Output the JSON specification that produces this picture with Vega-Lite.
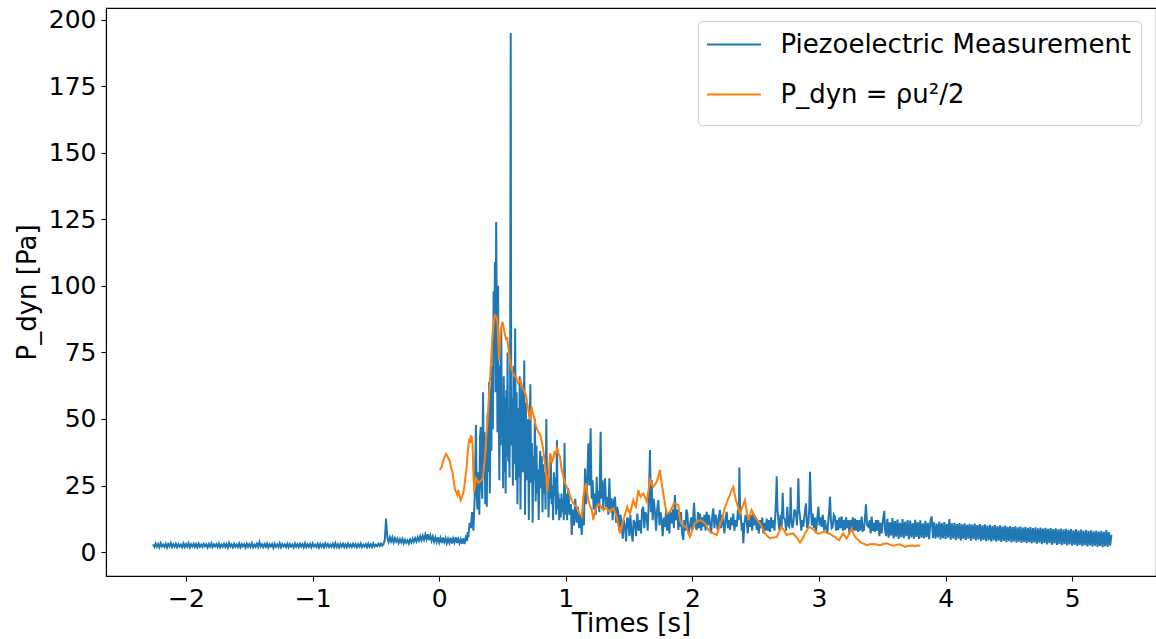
{
"$schema": "https://vega.github.io/schema/vega-lite/v6.json",
"width": 1050, "height": 568,
"autosize": {"type": "none"},
"padding": {"left": 106, "top": 8, "right": 0, "bottom": 63},
"background": "white",
"config": {
  "view": {"stroke": "black", "strokeWidth": 1.1},
  "font": "DejaVu Sans",
  "axis": {"domainColor": "black", "domainWidth": 1.1, "tickColor": "black", "tickWidth": 1.1, "tickSize": 5, "labelColor": "black", "titleColor": "black", "labelFont": "DejaVu Sans", "titleFont": "DejaVu Sans", "labelFontSize": 25, "titleFontSize": 26, "titleFontWeight": "normal", "grid": false, "labelPadding": 5}
},
"datasets": {
"blue": [
{"t":-2.26,"v":2.9},{"t":-2.25,"v":1.9},{"t":-2.24,"v":3.2},{"t":-2.23,"v":2.0},{"t":-2.22,"v":3.0},{"t":-2.21,"v":1.8},{"t":-2.2,"v":3.3},{"t":-2.19,"v":2.1},{"t":-2.18,"v":2.8},{"t":-2.17,"v":1.9},
{"t":-2.16,"v":3.1},{"t":-2.15,"v":1.7},{"t":-2.14,"v":3.0},{"t":-2.13,"v":2.2},{"t":-2.12,"v":3.4},{"t":-2.11,"v":1.9},{"t":-2.1,"v":2.9},{"t":-2.09,"v":2.0},{"t":-2.08,"v":3.1},{"t":-2.07,"v":1.8},
{"t":-2.06,"v":3.0},{"t":-2.05,"v":2.1},{"t":-2.04,"v":2.8},{"t":-2.03,"v":1.8},{"t":-2.02,"v":3.2},{"t":-2.01,"v":1.9},{"t":-2.0,"v":3.0},{"t":-1.99,"v":2.0},{"t":-1.98,"v":3.3},{"t":-1.97,"v":1.7},
{"t":-1.96,"v":2.9},{"t":-1.95,"v":2.1},{"t":-1.94,"v":3.1},{"t":-1.93,"v":1.9},{"t":-1.92,"v":3.0},{"t":-1.91,"v":1.8},{"t":-1.9,"v":3.2},{"t":-1.89,"v":2.0},{"t":-1.88,"v":2.8},{"t":-1.87,"v":1.9},
{"t":-1.86,"v":3.1},{"t":-1.85,"v":2.2},{"t":-1.84,"v":2.9},{"t":-1.83,"v":1.7},{"t":-1.82,"v":3.0},{"t":-1.81,"v":2.0},{"t":-1.8,"v":3.3},{"t":-1.79,"v":1.8},{"t":-1.78,"v":2.9},{"t":-1.77,"v":2.1},
{"t":-1.76,"v":3.0},{"t":-1.75,"v":1.9},{"t":-1.74,"v":3.2},{"t":-1.73,"v":1.8},{"t":-1.72,"v":2.8},{"t":-1.71,"v":2.0},{"t":-1.7,"v":3.1},{"t":-1.69,"v":1.9},{"t":-1.68,"v":3.0},{"t":-1.67,"v":1.7},
{"t":-1.66,"v":3.4},{"t":-1.65,"v":2.1},{"t":-1.64,"v":2.9},{"t":-1.63,"v":1.8},{"t":-1.62,"v":3.1},{"t":-1.61,"v":2.0},{"t":-1.6,"v":2.8},{"t":-1.59,"v":1.9},{"t":-1.58,"v":3.2},{"t":-1.57,"v":1.8},
{"t":-1.56,"v":3.0},{"t":-1.55,"v":2.1},{"t":-1.54,"v":2.9},{"t":-1.53,"v":1.7},{"t":-1.52,"v":3.1},{"t":-1.51,"v":2.0},{"t":-1.5,"v":3.0},{"t":-1.49,"v":1.9},{"t":-1.48,"v":3.3},{"t":-1.47,"v":1.8},
{"t":-1.46,"v":2.8},{"t":-1.45,"v":2.0},{"t":-1.44,"v":3.1},{"t":-1.43,"v":1.9},{"t":-1.42,"v":3.7},{"t":-1.41,"v":2.1},{"t":-1.4,"v":2.9},{"t":-1.39,"v":1.8},{"t":-1.38,"v":3.0},{"t":-1.37,"v":2.0},
{"t":-1.36,"v":3.2},{"t":-1.35,"v":1.7},{"t":-1.34,"v":2.9},{"t":-1.33,"v":2.1},{"t":-1.32,"v":3.0},{"t":-1.31,"v":1.6},{"t":-1.3,"v":3.1},{"t":-1.29,"v":2.0},{"t":-1.28,"v":2.8},{"t":-1.27,"v":1.9},
{"t":-1.26,"v":3.3},{"t":-1.25,"v":1.8},{"t":-1.24,"v":3.0},{"t":-1.23,"v":2.1},{"t":-1.22,"v":2.9},{"t":-1.21,"v":1.9},{"t":-1.2,"v":3.1},{"t":-1.19,"v":1.8},{"t":-1.18,"v":3.0},{"t":-1.17,"v":2.0},
{"t":-1.16,"v":2.8},{"t":-1.15,"v":1.7},{"t":-1.14,"v":3.2},{"t":-1.13,"v":2.0},{"t":-1.12,"v":2.9},{"t":-1.11,"v":1.9},{"t":-1.1,"v":3.1},{"t":-1.09,"v":2.1},{"t":-1.08,"v":3.0},{"t":-1.07,"v":1.8},
{"t":-1.06,"v":3.3},{"t":-1.05,"v":1.9},{"t":-1.04,"v":2.9},{"t":-1.03,"v":2.0},{"t":-1.02,"v":3.0},{"t":-1.01,"v":1.8},{"t":-1.0,"v":3.2},{"t":-0.99,"v":2.1},{"t":-0.98,"v":2.8},{"t":-0.97,"v":1.9},
{"t":-0.96,"v":3.1},{"t":-0.95,"v":1.7},{"t":-0.94,"v":3.0},{"t":-0.93,"v":2.0},{"t":-0.92,"v":2.9},{"t":-0.91,"v":1.8},{"t":-0.9,"v":3.2},{"t":-0.89,"v":2.1},{"t":-0.88,"v":3.0},{"t":-0.87,"v":1.9},
{"t":-0.86,"v":2.8},{"t":-0.85,"v":2.0},{"t":-0.84,"v":3.1},{"t":-0.83,"v":1.8},{"t":-0.82,"v":3.3},{"t":-0.81,"v":1.9},{"t":-0.8,"v":2.9},{"t":-0.79,"v":1.7},{"t":-0.78,"v":3.0},{"t":-0.77,"v":2.1},
{"t":-0.76,"v":3.1},{"t":-0.75,"v":1.9},{"t":-0.74,"v":2.9},{"t":-0.73,"v":1.8},{"t":-0.72,"v":3.2},{"t":-0.71,"v":2.0},{"t":-0.7,"v":2.8},{"t":-0.69,"v":1.9},{"t":-0.68,"v":3.1},{"t":-0.67,"v":2.1},
{"t":-0.66,"v":3.0},{"t":-0.65,"v":1.8},{"t":-0.64,"v":2.9},{"t":-0.63,"v":2.0},{"t":-0.62,"v":3.2},{"t":-0.61,"v":1.9},{"t":-0.6,"v":2.8},{"t":-0.59,"v":2.1},{"t":-0.58,"v":3.0},{"t":-0.57,"v":1.8},
{"t":-0.56,"v":3.1},{"t":-0.55,"v":2.0},{"t":-0.54,"v":2.9},{"t":-0.53,"v":1.9},{"t":-0.52,"v":3.2},{"t":-0.51,"v":2.1},{"t":-0.5,"v":2.8},{"t":-0.49,"v":2.2},{"t":-0.48,"v":3.1},{"t":-0.47,"v":2.3},
{"t":-0.46,"v":3.2},{"t":-0.45,"v":2.4},
{"t":-0.44,"v":3.0},{"t":-0.43,"v":4.5},{"t":-0.42,"v":12.6},{"t":-0.415,"v":9},{"t":-0.41,"v":5.5},{"t":-0.4,"v":3.8},{"t":-0.39,"v":5.6},{"t":-0.38,"v":4.0},{"t":-0.37,"v":5.5},{"t":-0.36,"v":3.6},{"t":-0.35,"v":5.2},{"t":-0.34,"v":3.9},{"t":-0.33,"v":5.0},{"t":-0.32,"v":3.4},{"t":-0.31,"v":4.8},{"t":-0.3,"v":3.6},{"t":-0.29,"v":4.9},{"t":-0.28,"v":3.3},{"t":-0.27,"v":4.6},{"t":-0.26,"v":3.5},{"t":-0.25,"v":4.4},{"t":-0.24,"v":3.2},{"t":-0.23,"v":4.7},{"t":-0.22,"v":3.6},{"t":-0.21,"v":5.0},{"t":-0.2,"v":3.8},{"t":-0.19,"v":5.2},{"t":-0.18,"v":4.0},{"t":-0.17,"v":5.5},{"t":-0.16,"v":4.2},{"t":-0.15,"v":5.9},{"t":-0.14,"v":4.4},{"t":-0.13,"v":6.1},{"t":-0.12,"v":4.6},{"t":-0.11,"v":6.5},{"t":-0.1,"v":4.8},{"t":-0.09,"v":6.7},{"t":-0.08,"v":4.5},{"t":-0.07,"v":6.2},{"t":-0.06,"v":4.2},{"t":-0.05,"v":5.8},{"t":-0.04,"v":3.9},{"t":-0.03,"v":5.5},{"t":-0.02,"v":3.8},{"t":-0.01,"v":5.6},{"t":0.0,"v":3.6},{"t":0.01,"v":5.3},{"t":0.02,"v":3.4},{"t":0.03,"v":5.5},{"t":0.04,"v":3.7},{"t":0.05,"v":5.2},{"t":0.06,"v":3.3},{"t":0.07,"v":5.0},{"t":0.08,"v":3.5},{"t":0.09,"v":5.4},{"t":0.1,"v":3.2},{"t":0.11,"v":5.1},{"t":0.12,"v":3.6},{"t":0.13,"v":5.6},{"t":0.14,"v":3.4},{"t":0.15,"v":5.0},{"t":0.16,"v":3.3},{"t":0.17,"v":4.8},{"t":0.18,"v":3.1},{"t":0.19,"v":5.2},{"t":0.2,"v":3.0},{"t":0.21,"v":5.5},{"t":0.22,"v":4.2},{"t":0.225,"v":7.5},{"t":0.23,"v":5.5},
{"t":0.24,"v":11},{"t":0.25,"v":9},{"t":0.26,"v":15},{"t":0.27,"v":8},{"t":0.28,"v":20},{"t":0.29,"v":47.7},{"t":0.296,"v":22},{"t":0.302,"v":16},{"t":0.31,"v":30},{"t":0.317,"v":14},{"t":0.322,"v":43},{"t":0.328,"v":47},{"t":0.334,"v":25},{"t":0.34,"v":20},{"t":0.346,"v":60},{"t":0.352,"v":33},{"t":0.358,"v":45},{"t":0.364,"v":18},{"t":0.37,"v":38},{"t":0.376,"v":17},{"t":0.382,"v":52},{"t":0.388,"v":30},{"t":0.394,"v":64},{"t":0.4,"v":22},{"t":0.406,"v":62},{"t":0.412,"v":38},{"t":0.418,"v":70},{"t":0.424,"v":46},{"t":0.43,"v":98},{"t":0.435,"v":75},{"t":0.44,"v":109},{"t":0.445,"v":60},{"t":0.45,"v":124},{"t":0.455,"v":89},{"t":0.46,"v":45},{"t":0.465,"v":100},{"t":0.47,"v":55},{"t":0.475,"v":27},{"t":0.48,"v":70},{"t":0.485,"v":40},{"t":0.49,"v":84},{"t":0.495,"v":43},{"t":0.5,"v":54},{"t":0.505,"v":24},{"t":0.51,"v":66},{"t":0.515,"v":30},{"t":0.52,"v":58},{"t":0.525,"v":22},{"t":0.53,"v":61},{"t":0.535,"v":36},{"t":0.54,"v":75},{"t":0.545,"v":34},{"t":0.55,"v":50},{"t":0.555,"v":28},{"t":0.56,"v":60},{"t":0.565,"v":195},{"t":0.569,"v":40},{"t":0.576,"v":58},{"t":0.582,"v":25},{"t":0.588,"v":70},{"t":0.594,"v":33},{"t":0.6,"v":84},{"t":0.606,"v":27},{"t":0.612,"v":60},{"t":0.618,"v":18},{"t":0.624,"v":54},{"t":0.63,"v":28},{"t":0.636,"v":66},{"t":0.642,"v":16},{"t":0.648,"v":48},{"t":0.654,"v":62},{"t":0.66,"v":30},{"t":0.666,"v":45},{"t":0.672,"v":72},{"t":0.678,"v":14},{"t":0.684,"v":56},{"t":0.69,"v":34},{"t":0.696,"v":27},{"t":0.702,"v":50},{"t":0.708,"v":12},{"t":0.714,"v":44},{"t":0.72,"v":63},{"t":0.726,"v":26},{"t":0.732,"v":41},{"t":0.738,"v":11},{"t":0.744,"v":36},{"t":0.75,"v":27},{"t":0.756,"v":50},{"t":0.762,"v":19},{"t":0.768,"v":40},{"t":0.774,"v":22},{"t":0.78,"v":31},{"t":0.786,"v":12},{"t":0.792,"v":30},{"t":0.798,"v":38},{"t":0.804,"v":24},{"t":0.81,"v":36},{"t":0.816,"v":15},{"t":0.822,"v":33},{"t":0.828,"v":22},{"t":0.834,"v":30},{"t":0.84,"v":16},{"t":0.846,"v":50},{"t":0.852,"v":24},{"t":0.858,"v":30},{"t":0.864,"v":13},{"t":0.87,"v":28},{"t":0.876,"v":20},{"t":0.882,"v":34},{"t":0.888,"v":18},{"t":0.894,"v":25},{"t":0.9,"v":12},{"t":0.906,"v":30},{"t":0.912,"v":21},{"t":0.918,"v":28},{"t":0.924,"v":14},{"t":0.93,"v":42},{"t":0.936,"v":16},{"t":0.942,"v":22},{"t":0.948,"v":12},{"t":0.954,"v":20},{"t":0.96,"v":13},{"t":0.966,"v":22},{"t":0.972,"v":15},{"t":0.978,"v":20},{"t":0.984,"v":12},{"t":0.99,"v":41},{"t":0.996,"v":14},
{"t":1.003,"v":22},{"t":1.01,"v":12},{"t":1.02,"v":24},{"t":1.03,"v":14},{"t":1.04,"v":18},{"t":1.047,"v":6.4},{"t":1.055,"v":16},{"t":1.065,"v":10},{"t":1.075,"v":20},{"t":1.085,"v":11},{"t":1.095,"v":17},{"t":1.105,"v":9},{"t":1.115,"v":14},{"t":1.126,"v":6.4},{"t":1.135,"v":15},{"t":1.143,"v":10},{"t":1.152,"v":31.4},{"t":1.16,"v":18},{"t":1.17,"v":28},{"t":1.178,"v":40.8},{"t":1.186,"v":25},{"t":1.196,"v":46.5},{"t":1.204,"v":20},{"t":1.212,"v":27},{"t":1.22,"v":16},{"t":1.23,"v":22},{"t":1.237,"v":14},{"t":1.244,"v":28.3},{"t":1.25,"v":18},{"t":1.257,"v":23},{"t":1.265,"v":15},{"t":1.275,"v":45.2},{"t":1.282,"v":20},{"t":1.289,"v":27},{"t":1.296,"v":16},{"t":1.303,"v":24},{"t":1.31,"v":27.7},{"t":1.318,"v":17},{"t":1.328,"v":20.8},{"t":1.336,"v":14},{"t":1.344,"v":27.7},{"t":1.352,"v":16},{"t":1.362,"v":20.2},{"t":1.37,"v":12},{"t":1.378,"v":19},{"t":1.389,"v":20.8},{"t":1.397,"v":11},{"t":1.405,"v":17},{"t":1.415,"v":14.5},{"t":1.423,"v":8},{"t":1.432,"v":14},{"t":1.441,"v":10.8},{"t":1.45,"v":5},{"t":1.458,"v":12},{"t":1.468,"v":9.5},{"t":1.476,"v":4},{"t":1.485,"v":13},{"t":1.494,"v":12},{"t":1.502,"v":6},{"t":1.51,"v":14},{"t":1.518,"v":8},{"t":1.528,"v":3.9},{"t":1.536,"v":12},{"t":1.547,"v":10.8},{"t":1.555,"v":6},{"t":1.565,"v":14.5},{"t":1.575,"v":8},{"t":1.586,"v":12},{"t":1.594,"v":7},{"t":1.603,"v":16},{"t":1.612,"v":17},{"t":1.62,"v":9},{"t":1.63,"v":15},{"t":1.639,"v":13.3},{"t":1.647,"v":8},{"t":1.656,"v":20},{"t":1.665,"v":38.3},{"t":1.672,"v":15},{"t":1.678,"v":27},{"t":1.686,"v":12},{"t":1.695,"v":20},{"t":1.705,"v":14.5},{"t":1.713,"v":8},{"t":1.722,"v":16},{"t":1.731,"v":19.5},{"t":1.74,"v":10},{"t":1.748,"v":15},{"t":1.757,"v":12},{"t":1.765,"v":6},{"t":1.775,"v":13},{"t":1.784,"v":9.5},{"t":1.792,"v":16},{"t":1.8,"v":8},{"t":1.81,"v":14.5},{"t":1.818,"v":7},{"t":1.826,"v":15},{"t":1.836,"v":10.8},{"t":1.846,"v":16},{"t":1.854,"v":9},{"t":1.862,"v":21.4},{"t":1.87,"v":12},{"t":1.879,"v":16},{"t":1.889,"v":8.3},{"t":1.896,"v":14},{"t":1.902,"v":9.5},{"t":1.91,"v":15},{"t":1.918,"v":7},{"t":1.928,"v":4.5},{"t":1.936,"v":12},{"t":1.945,"v":8},{"t":1.952,"v":16},{"t":1.96,"v":14.5},{"t":1.97,"v":7},{"t":1.98,"v":9.5},{"t":1.99,"v":13},{"t":2.0,"v":8},{"t":2.013,"v":18.5},{"t":2.022,"v":10},{"t":2.034,"v":8.3},{"t":2.045,"v":15},{"t":2.052,"v":9},{"t":2.06,"v":14.5},{"t":2.07,"v":8},{"t":2.078,"v":13},{"t":2.086,"v":9.5},{"t":2.095,"v":14},{"t":2.104,"v":8},{"t":2.113,"v":15.1},{"t":2.122,"v":10},{"t":2.13,"v":14},{"t":2.139,"v":10.8},{"t":2.148,"v":7},{"t":2.156,"v":13},{"t":2.165,"v":16.4},{"t":2.174,"v":9},{"t":2.183,"v":14},{"t":2.192,"v":12},{"t":2.2,"v":8},{"t":2.209,"v":13},{"t":2.218,"v":15.8},{"t":2.226,"v":9},{"t":2.235,"v":14},{"t":2.244,"v":10.8},{"t":2.253,"v":7},{"t":2.262,"v":13},{"t":2.271,"v":15.1},{"t":2.28,"v":9},{"t":2.289,"v":12},{"t":2.297,"v":8.3},{"t":2.306,"v":13},{"t":2.315,"v":10},{"t":2.323,"v":14.5},{"t":2.332,"v":8},{"t":2.341,"v":12},{"t":2.35,"v":9.5},{"t":2.36,"v":16},{"t":2.366,"v":12},{"t":2.371,"v":31.8},{"t":2.376,"v":18},{"t":2.381,"v":14.5},{"t":2.39,"v":8},{"t":2.396,"v":11},{"t":2.402,"v":3.3},{"t":2.41,"v":10},{"t":2.42,"v":14},{"t":2.429,"v":12},{"t":2.437,"v":7},{"t":2.446,"v":13},{"t":2.455,"v":9.5},{"t":2.464,"v":14},{"t":2.472,"v":8},{"t":2.481,"v":14.5},{"t":2.49,"v":10},{"t":2.5,"v":13},{"t":2.508,"v":8.3},{"t":2.517,"v":12},{"t":2.525,"v":7},{"t":2.534,"v":12},{"t":2.543,"v":9},{"t":2.552,"v":13},{"t":2.56,"v":7},{"t":2.57,"v":11},{"t":2.578,"v":8},{"t":2.587,"v":12.6},{"t":2.596,"v":8},{"t":2.605,"v":12},{"t":2.613,"v":7.6},{"t":2.622,"v":13},{"t":2.63,"v":9},{"t":2.639,"v":12},{"t":2.648,"v":8},{"t":2.655,"v":14},{"t":2.661,"v":20},{"t":2.666,"v":28.5},{"t":2.672,"v":16},{"t":2.679,"v":12},{"t":2.688,"v":8},{"t":2.696,"v":14},{"t":2.705,"v":9.5},{"t":2.713,"v":22.3},{"t":2.72,"v":13},{"t":2.732,"v":12},{"t":2.74,"v":8},{"t":2.75,"v":17},{"t":2.758,"v":10},{"t":2.765,"v":9.5},{"t":2.772,"v":14},{"t":2.776,"v":24.3},{"t":2.782,"v":12},{"t":2.79,"v":9},{"t":2.797,"v":10.8},{"t":2.806,"v":16},{"t":2.818,"v":14.5},{"t":2.826,"v":10},{"t":2.832,"v":18},{"t":2.837,"v":27.7},{"t":2.843,"v":16},{"t":2.85,"v":13.3},{"t":2.86,"v":8},{"t":2.868,"v":12},{"t":2.876,"v":9.5},{"t":2.886,"v":14},{"t":2.897,"v":18.3},{"t":2.906,"v":9},{"t":2.916,"v":10.8},{"t":2.923,"v":16},{"t":2.929,"v":30.2},{"t":2.936,"v":18},{"t":2.943,"v":10},{"t":2.95,"v":14.5},{"t":2.96,"v":9},{"t":2.968,"v":13},{"t":2.976,"v":7},{"t":2.985,"v":12},{"t":2.995,"v":17},{"t":3.004,"v":10},{"t":3.012,"v":13},{"t":3.021,"v":9.5},{"t":3.03,"v":14},{"t":3.04,"v":8},{"t":3.047,"v":12},{"t":3.056,"v":9},{"t":3.066,"v":7},{"t":3.074,"v":12},{"t":3.081,"v":16},{"t":3.087,"v":20.8},{"t":3.094,"v":12},{"t":3.1,"v":9},{"t":3.108,"v":9.5},{"t":3.117,"v":14},{"t":3.126,"v":13.3},{"t":3.135,"v":8},{"t":3.143,"v":12},{"t":3.152,"v":8.3},{"t":3.161,"v":13},{"t":3.17,"v":9},{"t":3.179,"v":13.3},{"t":3.188,"v":8},{"t":3.196,"v":12},{"t":3.205,"v":8.3},{"t":3.214,"v":13},{"t":3.222,"v":9},{"t":3.231,"v":12},{"t":3.24,"v":7},{"t":3.249,"v":12},{"t":3.258,"v":7.6},{"t":3.267,"v":13},{"t":3.275,"v":8},{"t":3.284,"v":12.6},{"t":3.293,"v":8},{"t":3.302,"v":12},{"t":3.31,"v":7.6},{"t":3.32,"v":12},{"t":3.328,"v":8},{"t":3.337,"v":13.3},{"t":3.346,"v":8},{"t":3.355,"v":8.3},{"t":3.362,"v":12},{"t":3.371,"v":17.9},{"t":3.38,"v":10},{"t":3.39,"v":9.5},{"t":3.4,"v":12},{"t":3.408,"v":7},{"t":3.416,"v":13.3},{"t":3.425,"v":8},{"t":3.433,"v":11},{"t":3.442,"v":7.6},{"t":3.45,"v":12},{"t":3.459,"v":8},{"t":3.468,"v":12},{"t":3.477,"v":6},{"t":3.486,"v":11},{"t":3.495,"v":7},{"t":3.505,"v":12},{"t":3.516,"v":15.5},{"t":3.522,"v":8},
{"t":3.53,"v":6.0},{"t":3.54,"v":12.5},{"t":3.55,"v":5.4},{"t":3.56,"v":11.2},{"t":3.57,"v":6.2},{"t":3.58,"v":12.8},{"t":3.59,"v":5.1},{"t":3.6,"v":11.6},{"t":3.61,"v":5.8},{"t":3.62,"v":12.2},{"t":3.63,"v":4.9},{"t":3.64,"v":11.0},{"t":3.65,"v":5.6},{"t":3.66,"v":12.4},{"t":3.67,"v":5.2},{"t":3.68,"v":11.4},{"t":3.69,"v":6.0},{"t":3.7,"v":12.0},{"t":3.71,"v":4.8},{"t":3.72,"v":11.8},{"t":3.73,"v":5.5},{"t":3.74,"v":10.9},{"t":3.75,"v":5.0},{"t":3.76,"v":12.1},{"t":3.77,"v":5.7},{"t":3.78,"v":11.3},{"t":3.79,"v":4.9},{"t":3.8,"v":11.9},{"t":3.81,"v":5.4},{"t":3.82,"v":10.8},{"t":3.83,"v":5.1},{"t":3.84,"v":11.7},{"t":3.85,"v":5.6},{"t":3.86,"v":11.0},{"t":3.87,"v":4.8},{"t":3.88,"v":11.5},{"t":3.89,"v":13.4},{"t":3.9,"v":5.3},{"t":3.91,"v":11.2},{"t":3.92,"v":5.0},{"t":3.93,"v":10.7},{"t":3.94,"v":5.5},{"t":3.95,"v":11.4},{"t":3.96,"v":4.7},{"t":3.97,"v":10.9},{"t":3.98,"v":5.2},{"t":3.99,"v":11.3},{"t":4.0,"v":4.9},{"t":4.01,"v":10.6},{"t":4.02,"v":5.4},{"t":4.03,"v":12.4},{"t":4.04,"v":4.6},{"t":4.05,"v":10.8},{"t":4.06,"v":5.1},{"t":4.07,"v":11.0},{"t":4.08,"v":4.5},{"t":4.09,"v":10.5},{"t":4.1,"v":5.0},{"t":4.11,"v":10.9},{"t":4.12,"v":4.4},{"t":4.13,"v":10.4},{"t":4.14,"v":4.9},{"t":4.15,"v":10.8},{"t":4.16,"v":4.6},{"t":4.17,"v":10.2},{"t":4.18,"v":5.0},{"t":4.19,"v":10.6},{"t":4.2,"v":4.3},{"t":4.21,"v":10.3},{"t":4.22,"v":4.8},{"t":4.23,"v":10.7},{"t":4.24,"v":4.4},{"t":4.25,"v":10.1},{"t":4.26,"v":4.7},{"t":4.27,"v":10.5},{"t":4.28,"v":4.2},{"t":4.29,"v":10.0},{"t":4.3,"v":4.6},{"t":4.31,"v":10.4},{"t":4.32,"v":4.1},{"t":4.33,"v":9.9},{"t":4.34,"v":4.5},{"t":4.35,"v":10.2},{"t":4.36,"v":4.0},{"t":4.37,"v":9.8},{"t":4.38,"v":4.4},{"t":4.39,"v":10.1},{"t":4.4,"v":3.9},{"t":4.41,"v":9.7},{"t":4.42,"v":4.3},{"t":4.43,"v":10.0},{"t":4.44,"v":3.8},{"t":4.45,"v":9.6},{"t":4.46,"v":4.2},{"t":4.47,"v":9.9},{"t":4.48,"v":3.7},{"t":4.49,"v":9.5},{"t":4.5,"v":4.1},{"t":4.51,"v":9.8},{"t":4.52,"v":3.6},{"t":4.53,"v":9.4},{"t":4.54,"v":4.0},{"t":4.55,"v":9.7},{"t":4.56,"v":3.5},{"t":4.57,"v":9.3},{"t":4.58,"v":3.9},{"t":4.59,"v":9.6},{"t":4.6,"v":3.4},{"t":4.61,"v":9.2},{"t":4.62,"v":3.8},{"t":4.63,"v":9.5},{"t":4.64,"v":3.3},{"t":4.65,"v":9.1},{"t":4.66,"v":3.7},{"t":4.67,"v":9.4},{"t":4.68,"v":3.2},{"t":4.69,"v":9.0},{"t":4.7,"v":3.6},{"t":4.71,"v":9.3},{"t":4.72,"v":3.1},{"t":4.73,"v":8.9},{"t":4.74,"v":3.5},{"t":4.75,"v":9.2},{"t":4.76,"v":3.0},{"t":4.77,"v":8.8},{"t":4.78,"v":3.4},{"t":4.79,"v":9.1},{"t":4.8,"v":2.9},{"t":4.81,"v":8.7},{"t":4.82,"v":3.3},{"t":4.83,"v":9.0},{"t":4.84,"v":2.8},{"t":4.85,"v":8.6},{"t":4.86,"v":3.2},{"t":4.87,"v":8.9},{"t":4.88,"v":2.7},{"t":4.89,"v":8.5},{"t":4.9,"v":3.1},{"t":4.91,"v":8.8},{"t":4.92,"v":2.6},{"t":4.93,"v":8.4},{"t":4.94,"v":3.0},{"t":4.95,"v":8.7},{"t":4.96,"v":2.5},{"t":4.97,"v":8.3},{"t":4.98,"v":2.9},{"t":4.99,"v":8.6},{"t":5.0,"v":2.4},{"t":5.01,"v":8.2},{"t":5.02,"v":2.8},{"t":5.03,"v":8.5},{"t":5.04,"v":2.3},{"t":5.05,"v":8.1},{"t":5.06,"v":2.7},{"t":5.07,"v":8.4},{"t":5.08,"v":2.2},{"t":5.09,"v":8.0},{"t":5.1,"v":2.6},{"t":5.11,"v":8.3},{"t":5.12,"v":2.1},{"t":5.13,"v":7.9},{"t":5.14,"v":2.5},{"t":5.15,"v":8.2},{"t":5.16,"v":2.0},{"t":5.17,"v":7.8},{"t":5.18,"v":2.4},{"t":5.19,"v":8.1},{"t":5.2,"v":1.9},{"t":5.21,"v":7.7},{"t":5.22,"v":2.3},{"t":5.23,"v":8.0},{"t":5.24,"v":1.8},{"t":5.25,"v":7.6},{"t":5.26,"v":2.2},{"t":5.27,"v":8.3},{"t":5.28,"v":1.9},{"t":5.29,"v":7.5},{"t":5.3,"v":2.4},{"t":5.31,"v":6.5}
],
"orange": [
{"t":0.006,"v":30.8},{"t":0.012,"v":31.5},{"t":0.02,"v":32},{"t":0.03,"v":34},{"t":0.04,"v":35.5},{"t":0.054,"v":36.8},{"t":0.065,"v":36},{"t":0.075,"v":35},{"t":0.085,"v":33.9},{"t":0.095,"v":31.5},{"t":0.107,"v":29.6},{"t":0.115,"v":26.5},{"t":0.125,"v":23.3},{"t":0.135,"v":22.5},{"t":0.143,"v":21.5},{"t":0.151,"v":23.3},{"t":0.16,"v":21},{"t":0.17,"v":19.5},{"t":0.18,"v":21},{"t":0.19,"v":22},{"t":0.2,"v":25},{"t":0.208,"v":28.5},{"t":0.217,"v":32},{"t":0.226,"v":38},{"t":0.238,"v":42.7},{"t":0.245,"v":41},{"t":0.25,"v":43.5},{"t":0.257,"v":43.3},{"t":0.264,"v":39.6},{"t":0.27,"v":30},{"t":0.277,"v":22.7},{"t":0.284,"v":25},{"t":0.29,"v":27.7},{"t":0.3,"v":27},{"t":0.31,"v":26},{"t":0.317,"v":26.4},{"t":0.33,"v":26.8},{"t":0.343,"v":27.7},{"t":0.352,"v":31},{"t":0.362,"v":35.8},{"t":0.37,"v":42},{"t":0.38,"v":48.3},{"t":0.39,"v":56},{"t":0.401,"v":64.6},{"t":0.41,"v":72},{"t":0.422,"v":82.2},{"t":0.43,"v":86},{"t":0.441,"v":89},{"t":0.45,"v":88.5},{"t":0.459,"v":87.2},{"t":0.466,"v":80},{"t":0.472,"v":72.1},{"t":0.478,"v":78},{"t":0.486,"v":83.4},{"t":0.493,"v":85},{"t":0.501,"v":86.5},{"t":0.51,"v":84},{"t":0.52,"v":81.5},{"t":0.528,"v":80},{"t":0.538,"v":80.3},{"t":0.548,"v":76},{"t":0.559,"v":72.1},{"t":0.57,"v":69},{"t":0.585,"v":67.1},{"t":0.596,"v":66},{"t":0.607,"v":65.9},{"t":0.616,"v":64.5},{"t":0.625,"v":63.4},{"t":0.634,"v":64},{"t":0.644,"v":64.6},{"t":0.655,"v":62},{"t":0.665,"v":60.9},{"t":0.676,"v":60},{"t":0.686,"v":59},{"t":0.695,"v":56},{"t":0.704,"v":53.3},{"t":0.71,"v":51},{"t":0.717,"v":49.6},{"t":0.723,"v":52},{"t":0.73,"v":54.6},{"t":0.74,"v":52},{"t":0.749,"v":50.8},{"t":0.757,"v":49},{"t":0.765,"v":47.1},{"t":0.774,"v":46},{"t":0.783,"v":45.2},{"t":0.792,"v":44.5},{"t":0.802,"v":43.3},{"t":0.812,"v":41},{"t":0.822,"v":38.3},{"t":0.833,"v":34},{"t":0.844,"v":29.6},{"t":0.85,"v":25},{"t":0.854,"v":22.7},{"t":0.862,"v":27},{"t":0.87,"v":32},{"t":0.876,"v":37.1},{"t":0.884,"v":36},{"t":0.892,"v":34},{"t":0.9,"v":34.6},{"t":0.91,"v":37.5},{"t":0.92,"v":37},{"t":0.933,"v":39},{"t":0.943,"v":37},{"t":0.954,"v":35.8},{"t":0.967,"v":31},{"t":0.98,"v":28.3},{"t":0.993,"v":26},{"t":1.007,"v":24.5},{"t":1.02,"v":23},{"t":1.033,"v":21.4},{"t":1.046,"v":19.5},{"t":1.06,"v":18.3},{"t":1.073,"v":17.5},{"t":1.086,"v":17},{"t":1.097,"v":15.5},{"t":1.107,"v":14.5},{"t":1.117,"v":14},{"t":1.126,"v":13.3},{"t":1.132,"v":17},{"t":1.138,"v":20.8},{"t":1.15,"v":24},{"t":1.16,"v":25.8},{"t":1.17,"v":22},{"t":1.178,"v":19.5},{"t":1.19,"v":17.5},{"t":1.205,"v":15.8},{"t":1.212,"v":14},{"t":1.217,"v":12},{"t":1.23,"v":15},{"t":1.244,"v":17},{"t":1.257,"v":18},{"t":1.27,"v":17.7},{"t":1.283,"v":16.5},{"t":1.296,"v":15.8},{"t":1.31,"v":16.5},{"t":1.323,"v":16.4},{"t":1.336,"v":15.5},{"t":1.349,"v":15.1},{"t":1.362,"v":16},{"t":1.375,"v":16.4},{"t":1.388,"v":15},{"t":1.402,"v":13.3},{"t":1.415,"v":10},{"t":1.428,"v":7},{"t":1.44,"v":9},{"t":1.454,"v":12},{"t":1.47,"v":14.5},{"t":1.486,"v":17},{"t":1.497,"v":15.5},{"t":1.507,"v":14.5},{"t":1.52,"v":17},{"t":1.533,"v":19.5},{"t":1.544,"v":18},{"t":1.554,"v":17},{"t":1.563,"v":20},{"t":1.573,"v":23.3},{"t":1.583,"v":21.5},{"t":1.592,"v":20.8},{"t":1.602,"v":21.5},{"t":1.612,"v":22},{"t":1.626,"v":20.5},{"t":1.639,"v":18.9},{"t":1.652,"v":23},{"t":1.665,"v":27},{"t":1.678,"v":25.5},{"t":1.691,"v":24.5},{"t":1.705,"v":25.5},{"t":1.718,"v":26.4},{"t":1.731,"v":28.5},{"t":1.744,"v":30.8},{"t":1.757,"v":26},{"t":1.77,"v":22},{"t":1.784,"v":18},{"t":1.797,"v":14.5},{"t":1.81,"v":14.8},{"t":1.823,"v":15.1},{"t":1.839,"v":16.8},{"t":1.855,"v":18.3},{"t":1.872,"v":18},{"t":1.889,"v":17.7},{"t":1.902,"v":12},{"t":1.915,"v":10.5},{"t":1.928,"v":10},{"t":1.942,"v":9.5},{"t":1.955,"v":8.9},{"t":1.968,"v":7},{"t":1.981,"v":5.7},{"t":2.0,"v":8.5},{"t":2.02,"v":10.8},{"t":2.04,"v":11.5},{"t":2.06,"v":12},{"t":2.08,"v":11.5},{"t":2.1,"v":10.8},{"t":2.12,"v":9},{"t":2.139,"v":7.6},{"t":2.165,"v":7},{"t":2.192,"v":6.4},{"t":2.21,"v":9},{"t":2.231,"v":12},{"t":2.245,"v":14.5},{"t":2.258,"v":17},{"t":2.271,"v":18.5},{"t":2.284,"v":20.2},{"t":2.297,"v":21.5},{"t":2.31,"v":23.3},{"t":2.323,"v":24.5},{"t":2.333,"v":22},{"t":2.344,"v":19.5},{"t":2.36,"v":17},{"t":2.376,"v":14.5},{"t":2.395,"v":17},{"t":2.415,"v":19.5},{"t":2.428,"v":15.5},{"t":2.442,"v":12},{"t":2.455,"v":14},{"t":2.468,"v":15.8},{"t":2.481,"v":14.5},{"t":2.494,"v":13.3},{"t":2.514,"v":12},{"t":2.534,"v":10.8},{"t":2.553,"v":9},{"t":2.573,"v":7},{"t":2.593,"v":6},{"t":2.613,"v":5.1},{"t":2.64,"v":5.5},{"t":2.666,"v":5.7},{"t":2.685,"v":7.5},{"t":2.705,"v":9.5},{"t":2.725,"v":8},{"t":2.745,"v":6.4},{"t":2.77,"v":6.8},{"t":2.797,"v":7},{"t":2.823,"v":5.5},{"t":2.85,"v":3.5},{"t":2.87,"v":5},{"t":2.889,"v":7},{"t":2.905,"v":8.2},{"t":2.924,"v":9.5},{"t":2.94,"v":9},{"t":2.955,"v":8.5},{"t":2.975,"v":7.6},{"t":2.995,"v":6.8},{"t":3.015,"v":7.2},{"t":3.034,"v":7.6},{"t":3.06,"v":7.2},{"t":3.087,"v":6.8},{"t":3.106,"v":6.2},{"t":3.126,"v":5.7},{"t":3.143,"v":5},{"t":3.16,"v":4.5},{"t":3.176,"v":5.8},{"t":3.192,"v":7},{"t":3.205,"v":6},{"t":3.219,"v":5.1},{"t":3.24,"v":7},{"t":3.258,"v":8.9},{"t":3.271,"v":7},{"t":3.284,"v":5.7},{"t":3.304,"v":4.8},{"t":3.324,"v":3.9},{"t":3.35,"v":3.2},{"t":3.377,"v":2.6},{"t":3.403,"v":2.9},{"t":3.429,"v":3},{"t":3.455,"v":2.8},{"t":3.482,"v":2.6},{"t":3.508,"v":3},{"t":3.535,"v":3.3},{"t":3.56,"v":2.8},{"t":3.587,"v":2.4},{"t":3.613,"v":2.7},{"t":3.64,"v":2.9},{"t":3.66,"v":2.4},{"t":3.68,"v":1.9},{"t":3.705,"v":2.3},{"t":3.732,"v":2.5},{"t":3.758,"v":2.3},{"t":3.784,"v":2.5},{"t":3.8,"v":2.3}
]
},
"layer": [
  {
    "data": {"name": "blue"},
    "mark": {"type": "line", "strokeWidth": 2},
    "encoding": {
      "x": {"field": "t", "type": "quantitative", "scale": {"domain": [-2.632, 5.662], "nice": false, "zero": false},
            "axis": {"values": [-2, -1, 0, 1, 2, 3, 4, 5], "format": "d", "title": "Times [s]", "titlePadding": -1}},
      "y": {"field": "v", "type": "quantitative", "scale": {"domain": [-9.0, 204.4], "nice": false, "zero": false},
            "axis": {"values": [0, 25, 50, 75, 100, 125, 150, 175, 200], "title": "P_dyn [Pa]", "titlePadding": 8}},
      "color": {"datum": "Piezoelectric Measurement", "type": "nominal",
                "scale": {"domain": ["Piezoelectric Measurement", "P_dyn = ρu²/2"], "range": ["#1f77b4", "#ff7f0e"]},
                "legend": {"orient": "none", "legendX": 592, "legendY": 13, "title": " ", "titleOrient": "bottom", "titleFontSize": 6, "titlePadding": 2, "symbolType": "M-2,0H2", "symbolSize": 729, "symbolStrokeWidth": 2, "symbolOffset": 12.5, "labelFontSize": 26, "labelFont": "DejaVu Sans", "labelColor": "black", "labelLimit": 600, "labelOffset": 32, "padding": 9, "rowPadding": 22, "fillColor": "rgba(255,255,255,0.8)", "strokeColor": "#cccccc", "cornerRadius": 4}}
    }
  },
  {
    "data": {"name": "orange"},
    "mark": {"type": "line", "strokeWidth": 2},
    "encoding": {
      "x": {"field": "t", "type": "quantitative"},
      "y": {"field": "v", "type": "quantitative"},
      "color": {"datum": "P_dyn = ρu²/2", "type": "nominal"}
    }
  }
]
}
